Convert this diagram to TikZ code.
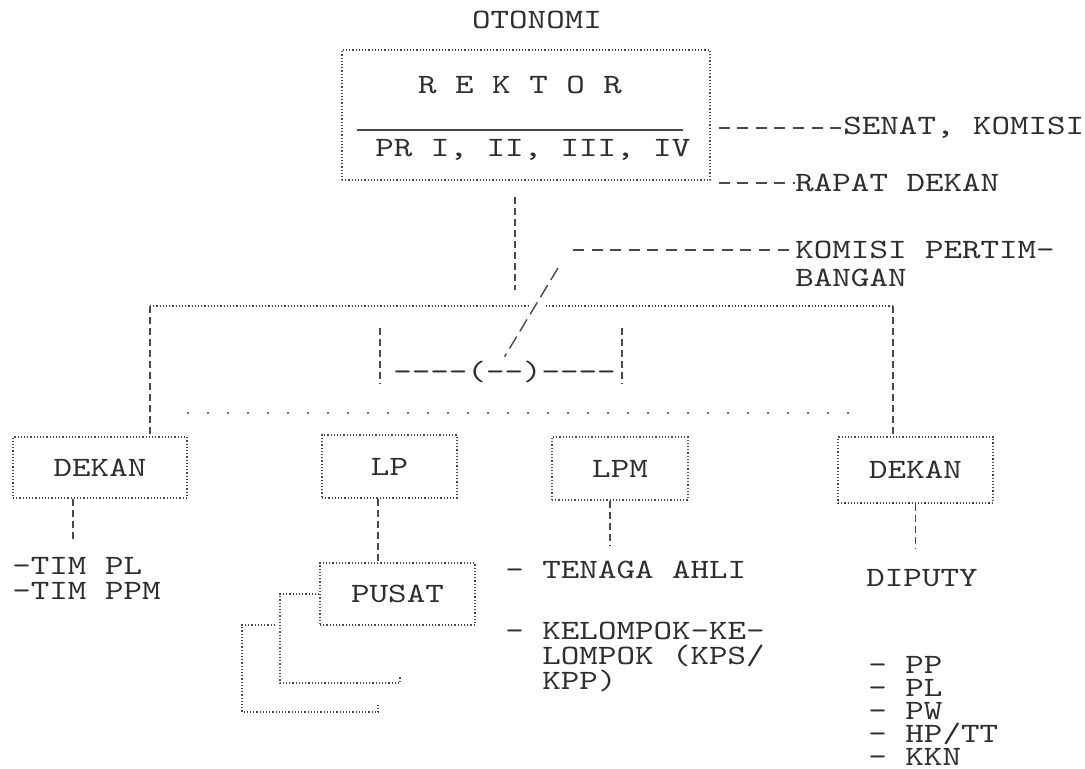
\documentclass[tikz,border=0pt]{standalone}
\usepackage{fontspec}
\setmonofont{lmmono10-regular.otf}[FakeStretch=1.26]
\usepackage{tikz}
\usetikzlibrary{positioning}
\definecolor{inkText}{HTML}{2E2E2E}
\definecolor{inkLine}{HTML}{4A4A4A}
\newcommand{\typefont}{\ttfamily\fontsize{14}{12.5}\selectfont}
\newcommand{\listfont}{\ttfamily\fontsize{14}{11.5}\selectfont}

\begin{document}
\begin{tikzpicture}[x=0.5pt, y=-0.5pt,
    typed/.style={font=\typefont, text=inkText, inner sep=0pt},
    typedlist/.style={font=\listfont, text=inkText, inner sep=0pt, align=left, anchor=north west},
    tbox/.style={draw=inkLine, densely dotted, line width=0.6pt, inner sep=0pt},
    bar/.style={draw=inkLine, line width=0.6pt, dash pattern=on 3.5pt off 2pt},
    leader/.style={draw=inkLine, line width=0.6pt, dash pattern=on 5.5pt off 3.8pt},
    slash/.style={draw=inkLine, line width=0.7pt, dash pattern=on 7pt off 3pt},
    dotrow/.style={draw=inkLine, line width=1.1pt, line cap=round, dash pattern=on 0.1pt off 9.9pt}]

    \useasboundingbox (0,0) rectangle (1085,769);

    % rektor box
    \node[typed] (otonomi) at (537,20) {OTONOMI};
    \node[tbox, minimum width=184pt, minimum height=65pt] (rektor) at (526,115) {};
    \node[typed] (rname) at (520,85) {R E K T O R};
    \node[typed, anchor=west] (pr) at (375,150) {PR I, II, III, IV};
    \draw[inkLine, line width=0.6pt] (357,130) -- (683,130);

    % side bodies
    \node[typed, anchor=west] (senat) at (843,128) {SENAT, KOMISI};
    \node[typed, anchor=west] (rapat) at (795,183) {RAPAT DEKAN};
    \draw[leader, shorten <=4pt] (senat.west -| rektor.east) -- (senat.west);
    \draw[leader, shorten <=4pt] (rapat.west -| rektor.east) -- (rapat.west);

    \node[typed, anchor=west] (komisi) at (795,250) {KOMISI PERTIM-};
    \node[typed, anchor=west] (bangan) at (795,278) {BANGAN};
    \coordinate (kstart) at (573,250);
    \draw[leader] (kstart) -- (komisi.west);

    % big frame
    \coordinate (ftl) at (150,306);
    \coordinate (ftr) at (893,306);
    \coordinate (fjoin) at (515,306);
    \draw[tbox] (ftl) -- (528,306);
    \draw[tbox] (546,306) -- (ftr);
    \draw[bar] ([xshift=-5.5pt,yshift=-8pt]rektor.south) -- ([yshift=8pt]fjoin);

    % inner bracket and the slash
    \node[typed, anchor=west] (council) at (393,372) {----(--)----};
    \draw[bar] (380,328) -- (380,384);
    \draw[bar] (622,328) -- (622,384);
    \draw[slash] (558,268) -- ([yshift=2pt]council.north);

    \draw[dotrow] (188,413) -- (862,413);

    % second row
    \node[typed, tbox, minimum width=87pt, minimum height=30.5pt] (dekanA) at (100,467.5) {DEKAN};
    \node[typed, tbox, minimum width=67.5pt, minimum height=31.5pt] (lp) at (389.5,466.5) {LP};
    \node[typed, tbox, minimum width=68pt, minimum height=31.5pt] (lpm) at (620,468.5) {LPM};
    \node[typed, tbox, minimum width=77.5pt, minimum height=33pt] (dekanB) at (915.5,470) {DEKAN};
    \node[typed, tbox, minimum width=77.5pt, minimum height=31pt] (pusat) at (397.5,594) {PUSAT};

    \draw[bar] (ftl) -- (dekanA.north -| ftl);
    \draw[bar] (ftr) -- (dekanB.north -| ftr);

    % lower lines
    \draw[bar] ([xshift=-13.5pt]dekanA.south) -- ++(0,42);
    \draw[bar] ([xshift=-5.75pt]lp.south) -- ([xshift=-5.75pt]lp.south |- pusat.north);
    \draw[bar] ([xshift=-5pt]lpm.south) -- ++(0,45);
    \draw[bar] (dekanB.south) -- ++(0,45);

    \draw[tbox] (pusat.west) -- (280,594) -- (280,683) -- (400,683) -- (400,676);
    \draw[tbox] (275,625) -- (242,625) -- (242,712) -- (378,712) -- (378,705);

    % lists
    \node[typedlist, font=\typefont] (tim) at (12,556.5) {-TIM PL\\-TIM PPM};
    \node[typed, anchor=west] (tenaga) at (505,570) {- TENAGA AHLI};
    \node[typedlist, font=\typefont] (kelompok) at (505,621.5) {- KELOMPOK-KE-\\\hphantom{- }LOMPOK (KPS/\\\hphantom{- }KPP)};
    \node[typed] (diputy) at (922,578) {DIPUTY};
    \node[typedlist] (diplist) at (868,655.5) {- PP\\- PL\\- PW\\- HP/TT\\- KKN};

\end{tikzpicture}
\end{document}
